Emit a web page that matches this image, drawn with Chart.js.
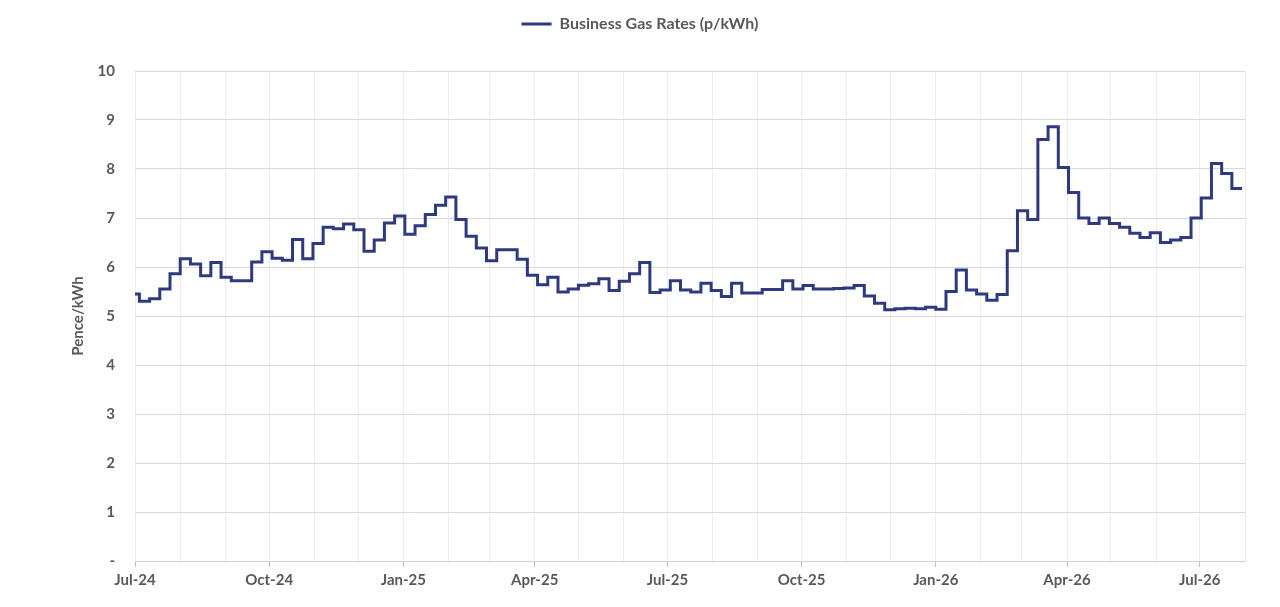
<!DOCTYPE html>
<html lang="en">
  <head>
    <meta charset="UTF-8" />
    <title>Business Gas Rates</title>
    <script src="https://cdn.jsdelivr.net/npm/chart.js"></script>
    <style>
      html, body { margin: 0; padding: 0; background: #ffffff; }
      #wrap { width: 1280px; height: 607px; position: relative; }
    </style>
  </head>
  <body>
    <div id="wrap">
      <canvas id="gasChart"></canvas>
    </div>

<script>
  // weekly business gas price, p/kWh (first week starts 27 Jun 2024)
  const firstWeek = [2024, 5, 27];
  const gasRates = [
    5.45, 5.30, 5.35, 5.55, 5.86, 6.17, 6.06, 5.82, 6.09, 5.79,
    5.72, 5.72, 6.10, 6.31, 6.18, 6.14, 6.56, 6.17, 6.48, 6.81,
    6.78, 6.88, 6.76, 6.32, 6.55, 6.90, 7.04, 6.67, 6.84, 7.07,
    7.26, 7.43, 6.97, 6.63, 6.39, 6.13, 6.35, 6.35, 6.16, 5.83,
    5.64, 5.79, 5.49, 5.55, 5.63, 5.66, 5.76, 5.52, 5.71, 5.86,
    6.09, 5.48, 5.53, 5.72, 5.53, 5.49, 5.67, 5.52, 5.40, 5.67,
    5.47, 5.47, 5.54, 5.54, 5.72, 5.55, 5.62, 5.55, 5.55, 5.56,
    5.57, 5.62, 5.41, 5.26, 5.13, 5.15, 5.16, 5.15, 5.18, 5.14,
    5.50, 5.94, 5.53, 5.45, 5.32, 5.44, 6.33, 7.15, 6.97, 8.60,
    8.86, 8.03, 7.52, 7.00, 6.89, 7.00, 6.89, 6.81, 6.69, 6.60,
    6.70, 6.50, 6.55, 6.60, 7.00, 7.41, 8.11, 7.91, 7.60
  ];

  // month gridlines, Jul-24 .. Aug-26 (every third one labelled)
  const monthLabels = [
    "Jul-24", "Aug-24", "Sep-24", "Oct-24", "Nov-24", "Dec-24",
    "Jan-25", "Feb-25", "Mar-25", "Apr-25", "May-25", "Jun-25",
    "Jul-25", "Aug-25", "Sep-25", "Oct-25", "Nov-25", "Dec-25",
    "Jan-26", "Feb-26", "Mar-26", "Apr-26", "May-26", "Jun-26",
    "Jul-26", "Aug-26"
  ];
  const yTicks = [0, 1, 2, 3, 4, 5, 6, 7, 8, 9, 10];

  const textGrey = "#595959";
  const lineColor = "#2e3a7d";
  const fontFam = "Lato, 'Noto Sans', sans-serif";

  // days since 1 Jul 2024
  const origin = Date.UTC(2024, 6, 1);
  function dayOf(y, m, d) {
    return (Date.UTC(y, m, d) - origin) / 86400000;
  }
  const monthDays = monthLabels.map((l, i) => dayOf(2024, 6 + i, 1));
  const weekZero = dayOf(firstWeek[0], firstWeek[1], firstWeek[2]);

  const points = gasRates.map((v, i) => ({ x: weekZero + 7 * i, y: v }));
  // hold the last week until its end
  points.push({ x: weekZero + 7 * gasRates.length, y: gasRates[gasRates.length - 1] });

  // extra space under the legend
  const legendGap = {
    id: "legendGap",
    beforeInit(chart) {
      const fit = chart.legend.fit;
      chart.legend.fit = function () {
        fit.bind(chart.legend)();
        this.height += 29;
      };
    }
  };

  new Chart(document.getElementById("gasChart"), {
    type: "line",
    data: {
      datasets: [{
        label: "Business Gas Rates (p/kWh)",
        data: points,
        borderColor: lineColor,
        backgroundColor: lineColor,
        borderWidth: 3,
        stepped: true,
        pointRadius: 0,
        pointHoverRadius: 0,
        fill: false
      }]
    },
    options: {
      responsive: true,
      maintainAspectRatio: false,
      animation: false,
      layout: {
        padding: { top: 6, right: 35, bottom: 14, left: 35 }
      },
      plugins: {
        legend: {
          position: "top",
          labels: {
            usePointStyle: true,
            pointStyle: "line",
            pointStyleWidth: 30,
            boxHeight: 8,
            color: textGrey,
            font: { family: fontFam, size: 16, weight: "bold" }
          }
        },
        tooltip: { enabled: false }
      },
      scales: {
        x: {
          type: "linear",
          min: 0,
          max: monthDays[monthDays.length - 1],
          afterBuildTicks: (axis) => {
            axis.ticks = monthDays.map((v) => ({ value: v }));
          },
          ticks: {
            autoSkip: false,
            maxRotation: 0,
            padding: 4,
            color: textGrey,
            font: { family: fontFam, size: 15, weight: "bold" },
            callback: (value, index) => (index % 3 === 0 ? monthLabels[index] : "")
          },
          grid: {
            color: "#ececec",
            lineWidth: 1,
            drawTicks: true,
            tickLength: 6,
            tickColor: (ctx) => (ctx.index % 3 === 0 ? "#bfbfbf" : "rgba(0,0,0,0)")
          },
          border: { display: true, color: "#d0d0d0" }
        },
        y: {
          min: 0,
          max: 10,
          afterBuildTicks: (axis) => {
            axis.ticks = yTicks.map((v) => ({ value: v }));
          },
          afterFit: (scale) => {
            scale.width = 100;
          },
          ticks: {
            padding: 20,
            color: textGrey,
            font: { family: fontFam, size: 15, weight: "bold" },
            callback: (value) => (value === 0 ? "-" : value)
          },
          grid: { color: "#d9d9d9", drawTicks: false },
          border: { display: false },
          title: {
            display: true,
            text: "Pence/kWh",
            color: textGrey,
            padding: { top: 34, bottom: 0 },
            font: { family: fontFam, size: 15, weight: "bold" }
          }
        }
      }
    },
    plugins: [legendGap]
  });
</script>
  </body>
</html>
